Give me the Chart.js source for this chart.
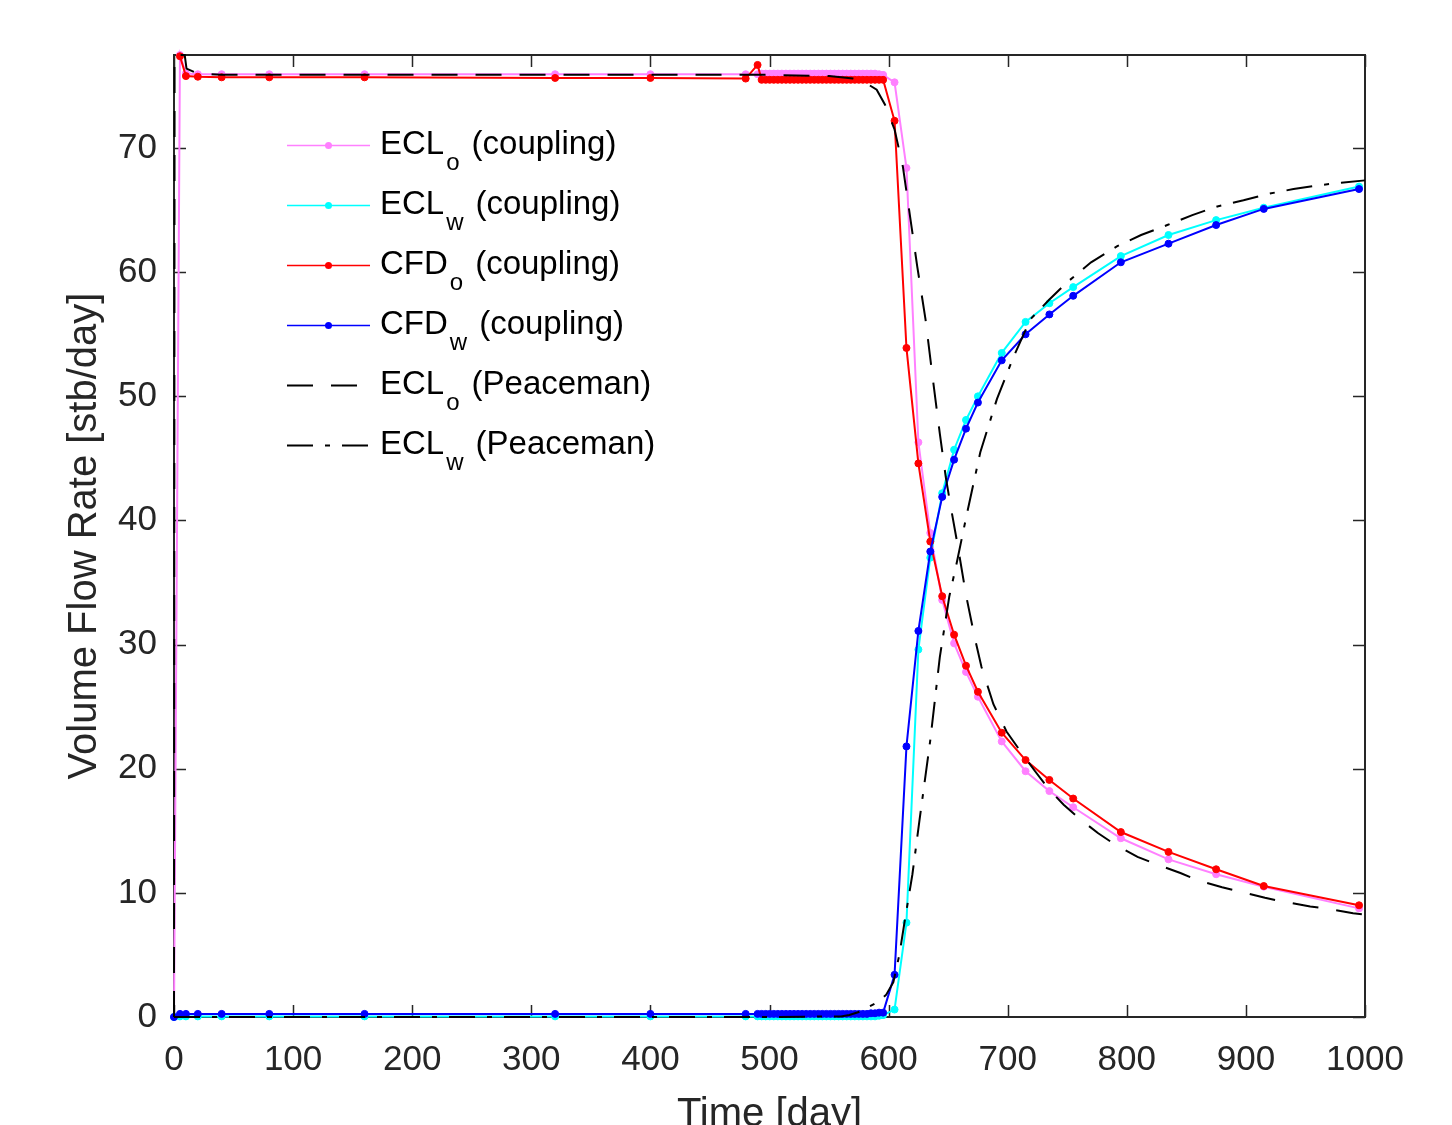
<!DOCTYPE html>
<html>
<head>
<meta charset="utf-8">
<script src="https://cdn.jsdelivr.net/npm/chart.js@4.4.1/dist/chart.umd.min.js"></script>
<style>
  html, body { margin: 0; padding: 0; background: #ffffff; }
  #wrap { width: 1452px; height: 1125px; }
</style>
</head>
<body>
<div id="wrap"><canvas id="flowChart" width="1452" height="1125"></canvas></div>
<script>
// 1. Time steps of the coupled runs (days)
const days = [0, 5, 10, 20, 40, 80, 160, 320, 400, 480, 490,
  493.4, 496.8, 500.2, 503.6, 507.0, 510.4, 513.8, 517.2, 520.6, 524.0,
  527.4, 530.8, 534.2, 537.6, 541.0, 544.4, 547.8, 551.2, 554.6, 558.0,
  561.4, 564.8, 568.2, 571.6, 575.0, 578.4, 581.8, 585.2, 588.6, 592.0, 595.4,
  605, 615, 625, 635, 645, 655, 665, 675, 695, 715, 735, 755, 795, 835, 875, 915, 995];

// 2. Coupled results (stb/day)
const eclOil = [0, 77.5, 76.0, 75.95, 75.95, 75.95, 75.95, 75.95, 75.95, 75.95, 75.95,
  76.0, 76.0, 76.0, 76.0, 76.0, 76.0, 76.0, 76.0, 76.0, 76.0,
  76.0, 76.0, 76.0, 76.0, 76.0, 76.0, 76.0, 76.0, 76.0, 76.0,
  76.0, 76.0, 76.0, 76.0, 76.0, 76.0, 76.0, 76.0, 76.0, 75.95, 75.9,
  75.3, 68.4, 46.3, 39.0, 33.6, 30.1, 27.8, 25.8, 22.2, 19.8, 18.2, 16.9, 14.4, 12.7, 11.5, 10.5, 8.75];

const eclWater = [0, 0.05, 0.05, 0.05, 0.05, 0.05, 0.05, 0.05, 0.05, 0.05, 0.05,
  0.05, 0.05, 0.05, 0.05, 0.05, 0.05, 0.05, 0.05, 0.05, 0.05,
  0.05, 0.05, 0.05, 0.05, 0.05, 0.05, 0.05, 0.05, 0.05, 0.05,
  0.05, 0.05, 0.05, 0.05, 0.05, 0.05, 0.05, 0.05, 0.05, 0.1, 0.15,
  0.6, 7.6, 29.6, 37.0, 42.2, 45.7, 48.1, 50.0, 53.5, 56.0, 57.5, 58.8, 61.3, 63.0, 64.2, 65.2, 66.9];

const cfdOil = [null, 77.4, 75.8, 75.75, 75.7, 75.7, 75.7, 75.65, 75.65, 75.6, 76.7,
  75.5, 75.5, 75.5, 75.5, 75.5, 75.5, 75.5, 75.5, 75.5, 75.5,
  75.5, 75.5, 75.5, 75.5, 75.5, 75.5, 75.5, 75.5, 75.5, 75.5,
  75.5, 75.5, 75.5, 75.5, 75.5, 75.5, 75.5, 75.5, 75.5, 75.5, 75.5,
  72.2, 53.9, 44.6, 38.3, 33.9, 30.8, 28.3, 26.2, 22.9, 20.7, 19.1, 17.6, 14.9, 13.3, 11.9, 10.55, 9.0];

const cfdWater = [0, 0.25, 0.25, 0.25, 0.25, 0.25, 0.25, 0.25, 0.25, 0.25, 0.25,
  0.25, 0.25, 0.25, 0.25, 0.25, 0.25, 0.25, 0.25, 0.25, 0.25,
  0.25, 0.25, 0.25, 0.25, 0.25, 0.25, 0.25, 0.25, 0.25, 0.25,
  0.25, 0.25, 0.25, 0.25, 0.25, 0.25, 0.25, 0.3, 0.3, 0.35, 0.35,
  3.4, 21.8, 31.1, 37.5, 41.9, 44.9, 47.4, 49.5, 52.9, 55.0, 56.6, 58.1, 60.8, 62.3, 63.8, 65.1, 66.7];

// 3. Peaceman well model (ECLIPSE only)
const peaceOilDays = [0, 0.5, 9, 10.5, 20, 40, 100, 200, 300, 400, 500, 550, 570, 580, 590, 597,
  605, 612, 618, 624, 631, 637, 643, 648, 652, 658, 665, 672, 678, 688, 699, 710, 723, 735,
  747, 760, 776, 790, 809, 825, 845, 860, 880, 895, 916, 931, 954, 970, 990, 1000];
const peaceOil = [0, 77.5, 77.5, 76.4, 76.0, 75.9, 75.9, 75.9, 75.9, 75.9, 75.9, 75.8, 75.6, 75.3, 74.7, 73.5,
  71.5, 68.5, 64.5, 60.5, 56.2, 51.5, 47.0, 43.5, 41.2, 38.0, 34.0, 30.7, 28.2, 25.2, 23.0, 21.5, 19.8, 18.3,
  17.1, 16.0, 14.8, 13.9, 12.9, 12.3, 11.6, 11.0, 10.45, 10.1, 9.6, 9.3, 8.9, 8.7, 8.35, 8.25];

const peaceWaterDays = [0, 100, 200, 300, 400, 500, 560, 567, 575, 581, 591, 598, 604, 609, 614, 620,
  626, 635, 643, 651, 657, 665, 677, 691, 705, 719, 735, 750, 770, 792, 812, 834, 855, 876, 898,
  918, 940, 960, 980, 1000];
const peaceWater = [0, 0, 0, 0, 0, 0, 0.05, 0.16, 0.4, 0.7, 1.2, 1.8, 2.8, 5.0, 8.0, 11.5,
  15.9, 22.3, 29.0, 33.9, 36.5, 40.2, 45.5, 49.8, 53.2, 56.2, 57.8, 59.2, 60.8, 62.1, 63.0, 63.8, 64.6, 65.3, 65.8,
  66.3, 66.7, 67.0, 67.2, 67.4];

// 4. Axis ticks
const xTicks = [0, 100, 200, 300, 400, 500, 600, 700, 800, 900, 1000];
const yTicks = [0, 10, 20, 30, 40, 50, 60, 70];

const AXIS_COLOR = '#262626';
const FONT = '"Liberation Sans", Arial, Helvetica, sans-serif';

// legend rows: colour, dash, marker, main text, subscript, rest
const legendRows = [
  { color: '#FF80FF', dash: [], marker: true, main: 'ECL', sub: 'o', rest: '(coupling)' },
  { color: '#00FFFF', dash: [], marker: true, main: 'ECL', sub: 'w', rest: '(coupling)' },
  { color: '#FF0000', dash: [], marker: true, main: 'CFD', sub: 'o', rest: '(coupling)' },
  { color: '#0000FF', dash: [], marker: true, main: 'CFD', sub: 'w', rest: '(coupling)' },
  { color: '#000000', dash: [26, 18], marker: false, main: 'ECL', sub: 'o', rest: '(Peaceman)' },
  { color: '#000000', dash: [26, 12, 5, 12], marker: false, main: 'ECL', sub: 'w', rest: '(Peaceman)' }
];

function toPoints(xs, ys) {
  return xs.map((x, i) => ({ x: x, y: ys[i] }));
}

function coupled(label, ys, color, order) {
  return {
    label: label,
    data: toPoints(days, ys),
    showLine: true,
    borderColor: color,
    backgroundColor: color,
    borderWidth: 2,
    pointRadius: 3.5,
    pointBorderWidth: 1,
    pointBorderColor: color,
    pointBackgroundColor: color,
    spanGaps: false,
    order: order
  };
}

function peaceman(label, xs, ys, dash, order) {
  return {
    label: label,
    data: toPoints(xs, ys),
    showLine: true,
    borderColor: '#000000',
    borderWidth: 2,
    borderDash: dash,
    pointRadius: 0,
    order: order
  };
}

// frame + inward ticks, drawn under the data (like MATLAB box on)
const framePlugin = {
  id: 'frame',
  beforeDatasetsDraw(chart) {
    const { ctx, chartArea: a, scales: { x, y } } = chart;
    ctx.save();
    ctx.strokeStyle = AXIS_COLOR;
    ctx.lineWidth = 1.5;
    ctx.beginPath();
    xTicks.forEach(v => {
      const px = Math.round(x.getPixelForValue(v)) + 0.5;
      ctx.moveTo(px, a.bottom); ctx.lineTo(px, a.bottom - 12);
      ctx.moveTo(px, a.top); ctx.lineTo(px, a.top + 12);
    });
    yTicks.forEach(v => {
      const py = Math.round(y.getPixelForValue(v)) + 0.5;
      ctx.moveTo(a.left, py); ctx.lineTo(a.left + 12, py);
      ctx.moveTo(a.right, py); ctx.lineTo(a.right - 12, py);
    });
    ctx.stroke();
    ctx.lineWidth = 2;
    ctx.strokeRect(a.left, a.top, a.right - a.left, a.bottom - a.top);
    ctx.restore();
  },
  afterDraw(chart) {
    const { ctx, chartArea: a } = chart;
    ctx.save();
    // axis titles
    ctx.fillStyle = AXIS_COLOR;
    ctx.font = '40px ' + FONT;
    ctx.textAlign = 'center';
    ctx.textBaseline = 'alphabetic';
    ctx.fillText('Time [day]', (a.left + a.right) / 2, 1126);
    ctx.save();
    ctx.translate(96, (a.top + a.bottom) / 2);
    ctx.rotate(-Math.PI / 2);
    ctx.fillText('Volume Flow Rate [stb/day]', 0, 0);
    ctx.restore();

    // legend with subscripts
    ctx.textAlign = 'left';
    legendRows.forEach((row, i) => {
      const ly = 145.5 + i * 60;
      ctx.strokeStyle = row.color;
      ctx.lineWidth = row.marker ? 1.5 : 2;
      ctx.setLineDash(row.dash);
      ctx.beginPath();
      ctx.moveTo(287, ly); ctx.lineTo(370, ly);
      ctx.stroke();
      ctx.setLineDash([]);
      if (row.marker) {
        ctx.fillStyle = row.color;
        ctx.beginPath();
        ctx.arc(328.5, ly, 3.5, 0, Math.PI * 2);
        ctx.fill();
      }
      ctx.fillStyle = '#000000';
      let tx = 380;
      const base = ly + 8;
      ctx.font = '33px ' + FONT;
      ctx.fillText(row.main, tx, base);
      tx += ctx.measureText(row.main).width;
      ctx.font = '24px ' + FONT;
      ctx.fillText(row.sub, tx + 2, base + 16);
      tx += ctx.measureText(row.sub).width + 2;
      ctx.font = '33px ' + FONT;
      ctx.fillText(row.rest, tx + 12, base);
    });
    ctx.restore();
  }
};

function renderChart() {
  const el = document.getElementById('flowChart');
  if (!el || typeof Chart === 'undefined') return;

  new Chart(el, {
    type: 'scatter',
    data: {
      datasets: [
        coupled('ECL_o (coupling)', eclOil, '#FF80FF', 6),
        coupled('ECL_w (coupling)', eclWater, '#00FFFF', 5),
        coupled('CFD_o (coupling)', cfdOil, '#FF0000', 4),
        coupled('CFD_w (coupling)', cfdWater, '#0000FF', 3),
        peaceman('ECL_o (Peaceman)', peaceOilDays, peaceOil, [26, 18], 2),
        peaceman('ECL_w (Peaceman)', peaceWaterDays, peaceWater, [26, 12, 5, 12], 1)
      ]
    },
    options: {
      responsive: false,
      animation: false,
      devicePixelRatio: 1,
      clip: false,
      layout: { padding: { left: 0, top: 55, right: 87, bottom: 0 } },
      plugins: {
        legend: { display: false },
        tooltip: { enabled: false },
        title: { display: false }
      },
      scales: {
        x: {
          type: 'linear',
          min: 0,
          max: 1000,
          afterFit: s => { s.height = 108; },
          afterBuildTicks: s => { s.ticks = xTicks.map(v => ({ value: v })); },
          grid: { display: false, drawTicks: false },
          border: { display: false },
          ticks: { color: AXIS_COLOR, padding: 22, font: { family: FONT, size: 35 }, maxRotation: 0,
                   callback: v => String(v) }
        },
        y: {
          type: 'linear',
          min: 0,
          max: 77.5,
          afterFit: s => { s.width = 174; },
          afterBuildTicks: s => { s.ticks = yTicks.map(v => ({ value: v })); },
          grid: { display: false, drawTicks: false },
          border: { display: false },
          ticks: { color: AXIS_COLOR, padding: 17, font: { family: FONT, size: 35 },
                   callback: v => String(v) }
        }
      }
    },
    plugins: [framePlugin]
  });
}

renderChart();
</script>
</body>
</html>
